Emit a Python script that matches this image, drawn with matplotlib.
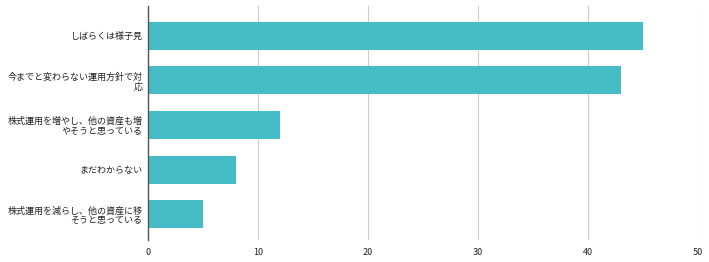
import matplotlib.pyplot as plt

plt.rcParams['font.family'] = ['Noto Sans CJK JP', 'DejaVu Sans']

# data
labels = [
    'しばらくは様子見',
    '今までと変わらない運用方針で対\n応',
    '株式運用を増やし、他の資産も増\nやそうと思っている',
    'まだわからない',
    '株式運用を減らし、他の資産に移\nそうと思っている',
]
values = [45, 43, 12, 8, 5]
xticks = [0, 10, 20, 30, 40, 50]

fig = plt.figure(figsize=(7.09, 2.62), dpi=100)
ax = fig.add_axes([148 / 709, 22 / 262, 550 / 709, 234 / 262])

pos = list(range(len(labels)))
ax.barh(pos, values, height=0.63, color='#46BDC6', zorder=3)

ax.set_xlim(0, 50)
ax.set_ylim(4.58, -0.67)
ax.set_xticks(xticks)
ax.set_xticklabels([str(t) for t in xticks], fontsize=6.5, color='#222222')
ax.set_yticks(pos)
ax.set_yticklabels(labels, fontsize=6.5, color='#222222', linespacing=1.15)
ax.tick_params(axis='both', length=0, pad=4)
ax.tick_params(axis='x', pad=6)

ax.grid(axis='x', color='#cccccc', linewidth=0.8, zorder=0)
for s in ['top', 'right', 'bottom']:
    ax.spines[s].set_visible(False)
ax.spines['left'].set_color('#555555')
ax.spines['left'].set_linewidth(1)
ax.spines['left'].set_zorder(4)

fig.savefig('out.png', dpi=100)
